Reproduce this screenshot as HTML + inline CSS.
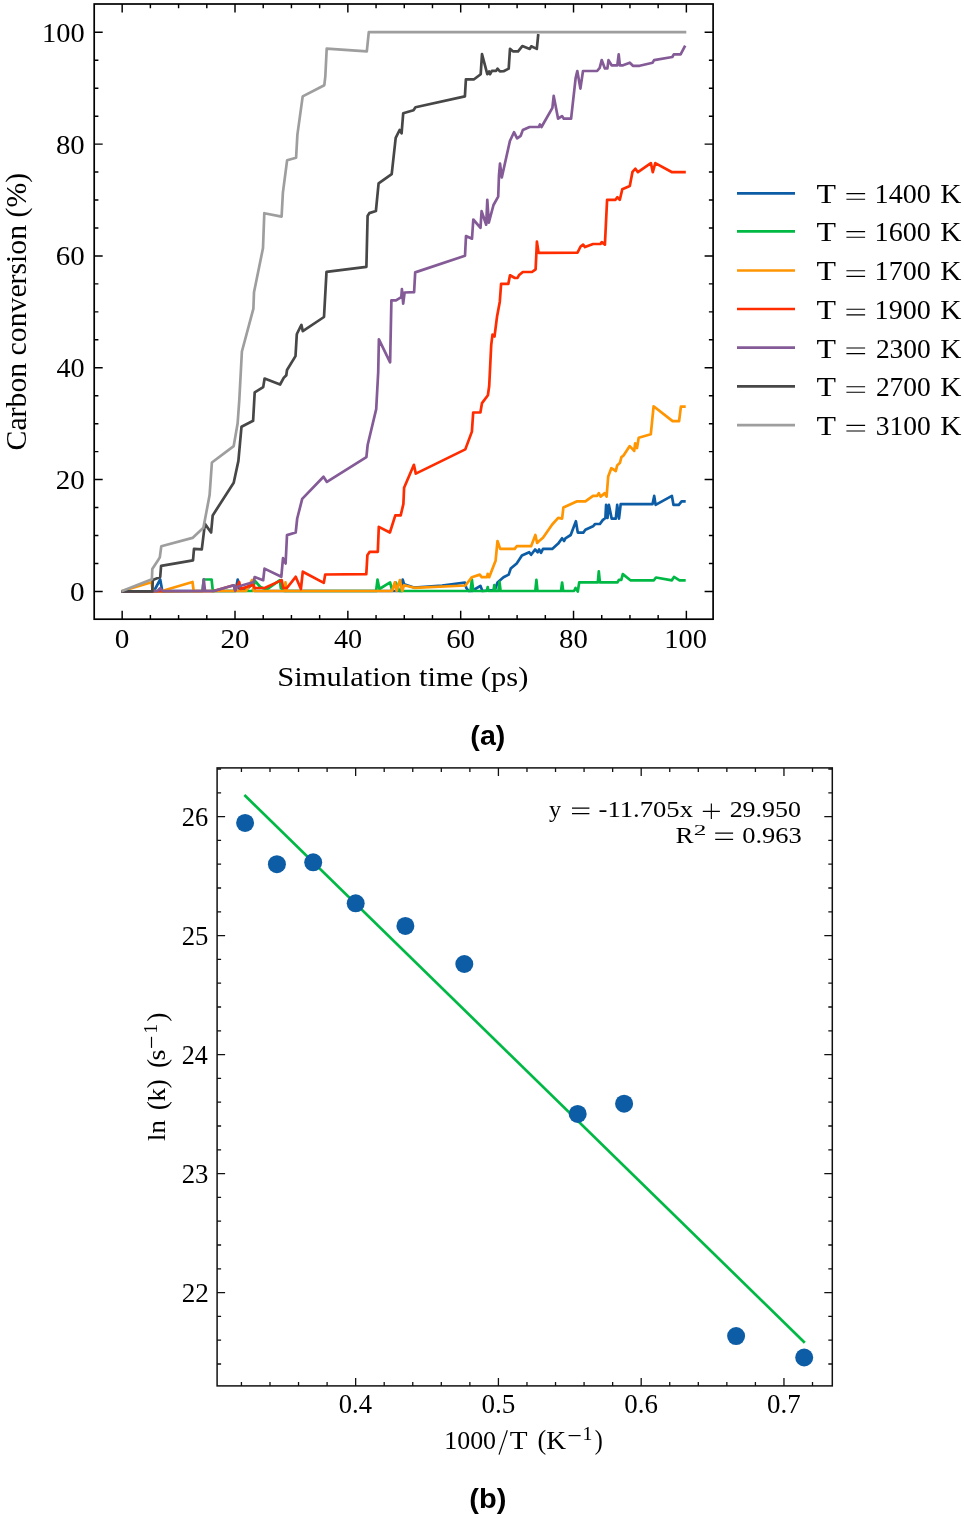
<!DOCTYPE html><html><head><meta charset="utf-8"><style>html,body{margin:0;padding:0;background:#fff}svg{display:block}text{filter:grayscale(1)}</style></head><body><svg width="964" height="1518" viewBox="0 0 964 1518">
<rect width="964" height="1518" fill="#fff"/>
<defs><clipPath id="ca"><rect x="94.2" y="4.0" width="618.90" height="615.20"/></clipPath><clipPath id="cb"><rect x="217.1" y="767.9" width="615.20" height="618.00"/></clipPath></defs>
<g clip-path="url(#ca)" fill="none" stroke-width="2.7" stroke-linejoin="round" stroke-linecap="butt">
<polyline points="121.5,591.3 154.0,591.0 160.2,579.5 162.3,591.0 235.5,591.0 237.7,579.5 239.5,589.0 245.7,589.9 253.0,583.7 254.5,591.0 401.5,591.0 402.7,579.6 404.1,584.3 414.0,587.5 442.0,585.5 464.9,582.6 466.3,588.0 468.6,591.0 471.9,591.0 480.4,585.8 482.4,591.0 494.9,590.0 497.5,582.5 503.5,577.2 508.7,574.6 510.7,568.6 516.7,563.4 521.9,555.5 529.2,552.2 531.1,554.8 535.1,549.5 537.7,552.2 539.1,549.5 541.0,552.8 543.0,548.9 552.2,548.9 558.2,543.6 562.1,538.3 564.1,541.0 565.4,538.3 570.7,535.0 575.9,521.2 577.8,532.6 583.3,532.6 585.4,529.8 593.0,526.3 595.1,524.0 599.9,524.0 602.7,520.1 605.4,518.0 606.1,504.9 607.5,518.0 608.9,504.9 611.7,518.7 615.8,518.7 617.2,504.9 619.0,518.7 620.7,504.2 652.5,504.2 654.2,495.9 655.6,504.9 671.9,495.9 673.5,504.9 678.8,504.9 681.6,501.4 685.7,501.4" stroke="#0C5DA5"/>
<polyline points="121.5,591.3 202.5,591.0 203.7,579.5 211.6,579.5 212.8,591.0 252.7,591.0 254.8,580.6 260.3,587.0 266.5,589.6 279.9,580.1 280.8,588.0 284.5,591.0 376.1,591.0 377.5,579.6 379.4,589.0 390.1,582.4 392.0,590.0 395.7,582.4 399.4,591.0 470.5,591.0 471.9,579.6 473.3,591.0 486.8,591.0 487.7,587.1 488.6,591.0 493.4,591.0 494.3,585.1 495.2,591.0 498.4,591.0 499.5,581.8 500.6,591.0 535.3,591.0 536.4,579.8 537.5,591.0 561.0,591.0 562.1,582.5 563.2,591.0 574.0,591.0 575.5,588.0 577.8,591.5 579.2,582.4 597.8,582.4 598.8,571.3 599.9,582.4 617.5,582.4 618.9,579.8 621.3,579.8 622.8,574.1 630.4,580.3 653.9,580.3 656.0,577.5 671.9,580.3 674.0,576.9 679.5,580.3 685.7,580.3" stroke="#00B945"/>
<polyline points="121.5,591.3 151.5,582.2 152.8,591.0 162.0,591.0 192.5,582.0 193.7,591.0 246.0,591.0 252.2,580.0 253.7,591.0 284.8,591.0 285.5,582.4 286.5,591.0 392.0,591.0 394.8,582.4 396.6,591.0 399.9,580.1 402.2,591.0 404.1,585.2 414.4,587.8 465.4,585.5 471.9,577.2 479.8,574.6 481.7,577.2 487.0,577.2 487.7,573.9 489.2,577.2 494.5,563.4 495.6,560.7 497.5,541.0 500.2,548.9 514.7,548.9 516.7,546.2 531.1,546.2 535.4,535.0 537.1,543.0 539.1,541.0 543.0,537.7 552.2,524.5 558.2,517.9 562.1,518.6 563.4,507.4 576.6,501.4 585.4,501.4 593.0,495.9 597.1,495.9 598.8,493.1 600.6,496.6 604.8,493.1 606.6,496.6 608.2,476.5 611.3,468.2 615.8,471.0 617.2,465.4 620.0,462.7 621.4,457.1 623.4,455.7 629.7,446.1 634.2,450.9 635.2,443.3 637.0,448.1 638.7,437.8 650.8,434.3 653.6,406.3 672.6,421.1 679.1,421.1 680.9,406.6 685.7,406.6" stroke="#FF9500"/>
<polyline points="121.5,591.3 213.7,591.0 233.7,585.3 235.3,590.5 239.2,582.0 240.6,589.0 253.3,584.6 254.6,588.0 264.7,588.0 281.7,580.1 283.1,588.0 286.9,588.0 295.7,576.8 300.9,589.0 302.8,571.7 323.8,582.9 325.2,574.5 366.3,574.1 367.4,555.2 369.7,551.8 377.8,551.8 378.8,526.9 389.9,532.5 395.3,515.4 400.7,515.4 403.4,503.9 404.1,487.8 413.9,464.8 415.8,473.6 465.3,449.4 471.9,431.6 473.2,412.5 480.4,412.5 482.0,403.1 487.9,395.2 489.2,386.0 491.2,345.2 492.5,334.6 494.5,336.6 497.1,316.2 499.8,301.7 501.1,283.9 508.3,283.9 510.0,275.3 514.9,278.0 517.5,278.0 518.9,275.3 522.8,272.0 532.0,272.0 535.6,269.4 536.4,252.9 536.9,241.7 538.6,252.9 577.5,252.7 580.6,246.5 583.1,244.6 585.0,247.1 593.1,244.0 600.5,244.0 601.8,242.1 604.9,244.6 607.1,199.8 615.5,199.8 617.3,197.3 619.8,199.8 622.3,189.2 629.8,186.1 632.5,171.8 635.4,168.7 637.9,172.2 650.9,163.1 652.8,172.2 655.3,163.1 672.1,172.2 685.8,172.2" stroke="#FF2C00"/>
<polyline points="121.5,591.3 157.5,591.0 160.2,588.2 162.5,591.0 202.6,591.0 203.8,579.4 205.0,591.0 213.7,591.0 233.7,585.3 235.3,590.7 236.5,587.0 253.8,582.0 254.6,577.1 263.2,580.2 264.5,568.6 281.3,576.8 283.0,558.2 285.6,563.5 287.0,535.1 295.7,532.5 297.2,518.5 302.2,498.9 323.5,476.7 326.9,481.9 366.4,457.2 367.7,444.7 376.2,409.1 378.2,372.2 378.9,339.3 390.1,362.3 391.4,300.4 396.0,300.4 401.3,297.1 401.9,289.2 403.2,303.7 404.6,292.5 414.1,292.1 415.2,272.4 465.0,255.8 466.0,236.1 472.0,238.7 473.3,219.5 480.5,227.8 481.6,211.2 486.2,224.7 487.3,199.8 488.8,222.6 493.5,205.0 498.2,196.7 499.0,174.9 500.0,163.5 501.8,177.5 509.9,141.0 514.0,132.2 517.1,138.4 520.7,135.8 522.8,130.1 529.6,127.0 538.9,127.0 539.9,124.4 541.5,127.0 552.4,107.8 553.7,95.9 558.1,118.7 562.0,116.1 563.8,118.7 571.1,118.7 575.7,77.7 577.3,71.0 580.4,88.6 583.0,71.0 597.1,71.0 599.7,67.9 601.7,60.1 604.9,68.4 607.4,68.4 608.5,60.1 611.6,65.3 617.3,65.3 618.7,54.4 619.9,65.3 623.0,65.3 629.8,62.7 632.9,65.8 639.6,65.8 652.6,62.7 654.1,60.1 672.3,57.0 673.8,54.4 680.6,54.4 685.2,45.6" stroke="#845B97"/>
<polyline points="121.5,591.3 152.3,591.4 152.8,579.9 160.2,577.0 161.1,565.8 193.0,560.4 194.0,548.8 201.8,549.3 204.9,523.9 211.1,532.5 212.7,515.4 233.7,482.7 238.4,460.9 241.5,426.7 253.1,420.8 254.7,392.4 263.2,387.1 264.6,378.5 280.1,384.5 283.7,377.9 286.3,375.2 287.0,370.0 295.5,356.1 296.8,334.4 297.1,333.5 301.4,324.9 302.8,331.2 324.0,317.0 326.5,271.9 366.4,266.8 367.6,216.0 369.3,213.1 375.9,211.0 378.6,183.4 391.7,174.2 395.7,137.9 399.6,130.0 401.6,133.3 403.2,113.3 413.5,110.2 415.5,107.2 464.9,96.4 465.9,79.3 474.1,79.3 480.7,74.2 482.0,54.1 487.3,74.2 489.1,71.4 490.1,74.2 491.9,70.9 496.1,70.9 497.5,68.6 499.9,71.4 503.6,71.2 508.7,68.6 510.0,48.9 512.9,51.3 518.1,51.3 522.3,46.1 529.8,48.9 531.2,46.3 536.8,48.9 538.3,34.0" stroke="#474747"/>
<polyline points="121.5,591.3 151.9,579.3 152.3,569.1 158.2,560.0 159.8,557.4 161.3,546.2 192.5,537.9 203.4,527.8 209.6,495.1 211.9,462.5 233.7,446.1 237.6,423.6 239.3,400.0 241.9,351.5 253.4,308.7 254.0,292.2 263.0,248.1 264.3,213.2 281.6,216.6 282.9,192.6 287.1,160.3 296.1,157.7 297.4,134.6 302.7,96.4 324.3,85.2 325.3,76.7 326.7,48.7 366.8,51.4 368.8,32.2 686.3,32.2" stroke="#9e9e9e"/>
</g>
<rect x="94.2" y="4.0" width="618.90" height="615.20" fill="none" stroke="#000" stroke-width="1.7"/>
<path d="M122.17 619.2v-8.5M122.17 4.0v8.5M235.01 619.2v-8.5M235.01 4.0v8.5M347.85 619.2v-8.5M347.85 4.0v8.5M460.69 619.2v-8.5M460.69 4.0v8.5M573.53 619.2v-8.5M573.53 4.0v8.5M686.37 619.2v-8.5M686.37 4.0v8.5" stroke="#000" stroke-width="1.45" fill="none"/>
<path d="M150.38 619.2v-4.2M150.38 4.0v4.2M178.59 619.2v-4.2M178.59 4.0v4.2M206.80 619.2v-4.2M206.80 4.0v4.2M263.22 619.2v-4.2M263.22 4.0v4.2M291.43 619.2v-4.2M291.43 4.0v4.2M319.64 619.2v-4.2M319.64 4.0v4.2M376.06 619.2v-4.2M376.06 4.0v4.2M404.27 619.2v-4.2M404.27 4.0v4.2M432.48 619.2v-4.2M432.48 4.0v4.2M488.90 619.2v-4.2M488.90 4.0v4.2M517.11 619.2v-4.2M517.11 4.0v4.2M545.32 619.2v-4.2M545.32 4.0v4.2M601.74 619.2v-4.2M601.74 4.0v4.2M629.95 619.2v-4.2M629.95 4.0v4.2M658.16 619.2v-4.2M658.16 4.0v4.2" stroke="#000" stroke-width="1.45" fill="none"/>
<path d="M94.2 591.40h8.5M713.1 591.40h-8.5M94.2 479.58h8.5M713.1 479.58h-8.5M94.2 367.76h8.5M713.1 367.76h-8.5M94.2 255.94h8.5M713.1 255.94h-8.5M94.2 144.12h8.5M713.1 144.12h-8.5M94.2 32.30h8.5M713.1 32.30h-8.5" stroke="#000" stroke-width="1.45" fill="none"/>
<path d="M94.2 563.44h4.2M713.1 563.44h-4.2M94.2 535.49h4.2M713.1 535.49h-4.2M94.2 507.53h4.2M713.1 507.53h-4.2M94.2 451.62h4.2M713.1 451.62h-4.2M94.2 423.67h4.2M713.1 423.67h-4.2M94.2 395.71h4.2M713.1 395.71h-4.2M94.2 339.80h4.2M713.1 339.80h-4.2M94.2 311.85h4.2M713.1 311.85h-4.2M94.2 283.89h4.2M713.1 283.89h-4.2M94.2 227.98h4.2M713.1 227.98h-4.2M94.2 200.03h4.2M713.1 200.03h-4.2M94.2 172.07h4.2M713.1 172.07h-4.2M94.2 116.16h4.2M713.1 116.16h-4.2M94.2 88.21h4.2M713.1 88.21h-4.2M94.2 60.25h4.2M713.1 60.25h-4.2" stroke="#000" stroke-width="1.45" fill="none"/>
<text x="114.86" y="648.30" style="font-family:'Liberation Serif',serif;font-size:26.5px" textLength="14.63" lengthAdjust="spacingAndGlyphs" xml:space="preserve">0</text>
<text x="220.44" y="648.30" style="font-family:'Liberation Serif',serif;font-size:26.5px" textLength="28.98" lengthAdjust="spacingAndGlyphs" xml:space="preserve">20</text>
<text x="334.00" y="648.30" style="font-family:'Liberation Serif',serif;font-size:26.5px" textLength="28.23" lengthAdjust="spacingAndGlyphs" xml:space="preserve">40</text>
<text x="446.15" y="648.30" style="font-family:'Liberation Serif',serif;font-size:26.5px" textLength="28.95" lengthAdjust="spacingAndGlyphs" xml:space="preserve">60</text>
<text x="559.13" y="648.30" style="font-family:'Liberation Serif',serif;font-size:26.5px" textLength="28.79" lengthAdjust="spacingAndGlyphs" xml:space="preserve">80</text>
<text x="664.32" y="648.30" style="font-family:'Liberation Serif',serif;font-size:26.5px" textLength="42.68" lengthAdjust="spacingAndGlyphs" xml:space="preserve">100</text>
<text x="70.09" y="600.90" style="font-family:'Liberation Serif',serif;font-size:26.5px" textLength="14.63" lengthAdjust="spacingAndGlyphs" xml:space="preserve">0</text>
<text x="55.73" y="489.08" style="font-family:'Liberation Serif',serif;font-size:26.5px" textLength="28.98" lengthAdjust="spacingAndGlyphs" xml:space="preserve">20</text>
<text x="56.45" y="377.26" style="font-family:'Liberation Serif',serif;font-size:26.5px" textLength="28.23" lengthAdjust="spacingAndGlyphs" xml:space="preserve">40</text>
<text x="55.76" y="265.44" style="font-family:'Liberation Serif',serif;font-size:26.5px" textLength="28.95" lengthAdjust="spacingAndGlyphs" xml:space="preserve">60</text>
<text x="55.90" y="153.62" style="font-family:'Liberation Serif',serif;font-size:26.5px" textLength="28.79" lengthAdjust="spacingAndGlyphs" xml:space="preserve">80</text>
<text x="42.00" y="41.80" style="font-family:'Liberation Serif',serif;font-size:26.5px" textLength="42.68" lengthAdjust="spacingAndGlyphs" xml:space="preserve">100</text>
<text x="277.26" y="686.00" style="font-family:'Liberation Serif',serif;font-size:27.5px" textLength="251.08" lengthAdjust="spacingAndGlyphs" xml:space="preserve">Simulation time (ps)</text>
<g transform="translate(26.3 449.2) rotate(-90)">
<text x="-1.22" y="0.00" style="font-family:'Liberation Serif',serif;font-size:28.5px" textLength="277.53" lengthAdjust="spacingAndGlyphs" xml:space="preserve">Carbon conversion (%)</text>
</g>
<line x1="737" x2="795" y1="193.3" y2="193.3" stroke="#0C5DA5" stroke-width="2.7"/>
<text x="816.62" y="203.10" style="font-family:'Liberation Serif',serif;font-size:27.5px" textLength="19.51" lengthAdjust="spacingAndGlyphs" xml:space="preserve">T</text>
<path d="M846.40 193.60H865.10M846.40 199.20H865.10" stroke="#000" stroke-width="1.1"/>
<text x="874.63" y="203.10" style="font-family:'Liberation Serif',serif;font-size:27.5px" textLength="56.24" lengthAdjust="spacingAndGlyphs" xml:space="preserve">1400</text>
<text x="940.16" y="203.10" style="font-family:'Liberation Serif',serif;font-size:27.5px" textLength="21.14" lengthAdjust="spacingAndGlyphs" xml:space="preserve">K</text>
<line x1="737" x2="795" y1="231.3" y2="231.3" stroke="#00B945" stroke-width="2.7"/>
<text x="816.62" y="241.10" style="font-family:'Liberation Serif',serif;font-size:27.5px" textLength="19.51" lengthAdjust="spacingAndGlyphs" xml:space="preserve">T</text>
<path d="M846.40 231.60H865.10M846.40 237.20H865.10" stroke="#000" stroke-width="1.1"/>
<text x="874.63" y="241.10" style="font-family:'Liberation Serif',serif;font-size:27.5px" textLength="56.24" lengthAdjust="spacingAndGlyphs" xml:space="preserve">1600</text>
<text x="940.16" y="241.10" style="font-family:'Liberation Serif',serif;font-size:27.5px" textLength="21.14" lengthAdjust="spacingAndGlyphs" xml:space="preserve">K</text>
<line x1="737" x2="795" y1="270.5" y2="270.5" stroke="#FF9500" stroke-width="2.7"/>
<text x="816.62" y="280.30" style="font-family:'Liberation Serif',serif;font-size:27.5px" textLength="19.51" lengthAdjust="spacingAndGlyphs" xml:space="preserve">T</text>
<path d="M846.40 270.80H865.10M846.40 276.40H865.10" stroke="#000" stroke-width="1.1"/>
<text x="874.63" y="280.30" style="font-family:'Liberation Serif',serif;font-size:27.5px" textLength="56.24" lengthAdjust="spacingAndGlyphs" xml:space="preserve">1700</text>
<text x="940.16" y="280.30" style="font-family:'Liberation Serif',serif;font-size:27.5px" textLength="21.14" lengthAdjust="spacingAndGlyphs" xml:space="preserve">K</text>
<line x1="737" x2="795" y1="309.0" y2="309.0" stroke="#FF2C00" stroke-width="2.7"/>
<text x="816.62" y="318.80" style="font-family:'Liberation Serif',serif;font-size:27.5px" textLength="19.51" lengthAdjust="spacingAndGlyphs" xml:space="preserve">T</text>
<path d="M846.40 309.30H865.10M846.40 314.90H865.10" stroke="#000" stroke-width="1.1"/>
<text x="874.63" y="318.80" style="font-family:'Liberation Serif',serif;font-size:27.5px" textLength="56.24" lengthAdjust="spacingAndGlyphs" xml:space="preserve">1900</text>
<text x="940.16" y="318.80" style="font-family:'Liberation Serif',serif;font-size:27.5px" textLength="21.14" lengthAdjust="spacingAndGlyphs" xml:space="preserve">K</text>
<line x1="737" x2="795" y1="347.7" y2="347.7" stroke="#845B97" stroke-width="2.7"/>
<text x="816.62" y="357.50" style="font-family:'Liberation Serif',serif;font-size:27.5px" textLength="19.51" lengthAdjust="spacingAndGlyphs" xml:space="preserve">T</text>
<path d="M846.40 348.00H865.10M846.40 353.60H865.10" stroke="#000" stroke-width="1.1"/>
<text x="875.89" y="357.50" style="font-family:'Liberation Serif',serif;font-size:27.5px" textLength="54.95" lengthAdjust="spacingAndGlyphs" xml:space="preserve">2300</text>
<text x="940.16" y="357.50" style="font-family:'Liberation Serif',serif;font-size:27.5px" textLength="21.14" lengthAdjust="spacingAndGlyphs" xml:space="preserve">K</text>
<line x1="737" x2="795" y1="386.4" y2="386.4" stroke="#474747" stroke-width="2.7"/>
<text x="816.62" y="396.20" style="font-family:'Liberation Serif',serif;font-size:27.5px" textLength="19.51" lengthAdjust="spacingAndGlyphs" xml:space="preserve">T</text>
<path d="M846.40 386.70H865.10M846.40 392.30H865.10" stroke="#000" stroke-width="1.1"/>
<text x="875.89" y="396.20" style="font-family:'Liberation Serif',serif;font-size:27.5px" textLength="54.95" lengthAdjust="spacingAndGlyphs" xml:space="preserve">2700</text>
<text x="940.16" y="396.20" style="font-family:'Liberation Serif',serif;font-size:27.5px" textLength="21.14" lengthAdjust="spacingAndGlyphs" xml:space="preserve">K</text>
<line x1="737" x2="795" y1="425.1" y2="425.1" stroke="#9e9e9e" stroke-width="2.7"/>
<text x="816.62" y="434.90" style="font-family:'Liberation Serif',serif;font-size:27.5px" textLength="19.51" lengthAdjust="spacingAndGlyphs" xml:space="preserve">T</text>
<path d="M846.40 425.40H865.10M846.40 431.00H865.10" stroke="#000" stroke-width="1.1"/>
<text x="875.78" y="434.90" style="font-family:'Liberation Serif',serif;font-size:27.5px" textLength="55.07" lengthAdjust="spacingAndGlyphs" xml:space="preserve">3100</text>
<text x="940.16" y="434.90" style="font-family:'Liberation Serif',serif;font-size:27.5px" textLength="21.14" lengthAdjust="spacingAndGlyphs" xml:space="preserve">K</text>
<text x="470.38" y="745.30" style="font-family:'Liberation Sans',sans-serif;font-size:28px;font-weight:bold" textLength="34.95" lengthAdjust="spacingAndGlyphs" xml:space="preserve">(a)</text>
<line clip-path="url(#cb)" x1="244.4" y1="795.0" x2="804.8" y2="1342.7" stroke="#00B945" stroke-width="2.7"/>
<circle cx="245.1" cy="822.9" r="9.0" fill="#0C5DA5"/>
<circle cx="276.9" cy="864.2" r="9.0" fill="#0C5DA5"/>
<circle cx="313.2" cy="862.3" r="9.0" fill="#0C5DA5"/>
<circle cx="355.7" cy="903.3" r="9.0" fill="#0C5DA5"/>
<circle cx="405.4" cy="925.9" r="9.0" fill="#0C5DA5"/>
<circle cx="464.3" cy="964.0" r="9.0" fill="#0C5DA5"/>
<circle cx="577.7" cy="1113.9" r="9.0" fill="#0C5DA5"/>
<circle cx="624.1" cy="1103.7" r="9.0" fill="#0C5DA5"/>
<circle cx="736.1" cy="1336.1" r="9.0" fill="#0C5DA5"/>
<circle cx="804.2" cy="1357.5" r="9.0" fill="#0C5DA5"/>
<rect x="217.1" y="767.9" width="615.20" height="618.00" fill="none" stroke="#111" stroke-width="1.5"/>
<path d="M355.65 1385.9v-8.0M355.65 767.9v8.0M498.42 1385.9v-8.0M498.42 767.9v8.0M641.19 1385.9v-8.0M641.19 767.9v8.0M783.96 1385.9v-8.0M783.96 767.9v8.0" stroke="#111" stroke-width="1.3" fill="none"/>
<path d="M241.43 1385.9v-4.0M241.43 767.9v4.0M269.99 1385.9v-4.0M269.99 767.9v4.0M298.54 1385.9v-4.0M298.54 767.9v4.0M327.10 1385.9v-4.0M327.10 767.9v4.0M384.20 1385.9v-4.0M384.20 767.9v4.0M412.76 1385.9v-4.0M412.76 767.9v4.0M441.31 1385.9v-4.0M441.31 767.9v4.0M469.87 1385.9v-4.0M469.87 767.9v4.0M526.97 1385.9v-4.0M526.97 767.9v4.0M555.53 1385.9v-4.0M555.53 767.9v4.0M584.08 1385.9v-4.0M584.08 767.9v4.0M612.64 1385.9v-4.0M612.64 767.9v4.0M669.74 1385.9v-4.0M669.74 767.9v4.0M698.30 1385.9v-4.0M698.30 767.9v4.0M726.85 1385.9v-4.0M726.85 767.9v4.0M755.41 1385.9v-4.0M755.41 767.9v4.0M812.51 1385.9v-4.0M812.51 767.9v4.0" stroke="#111" stroke-width="1.3" fill="none"/>
<path d="M217.1 1292.60h8.0M832.3 1292.60h-8.0M217.1 1173.60h8.0M832.3 1173.60h-8.0M217.1 1054.60h8.0M832.3 1054.60h-8.0M217.1 935.60h8.0M832.3 935.60h-8.0M217.1 816.60h8.0M832.3 816.60h-8.0" stroke="#111" stroke-width="1.3" fill="none"/>
<path d="M217.1 1364.00h4.0M832.3 1364.00h-4.0M217.1 1340.20h4.0M832.3 1340.20h-4.0M217.1 1316.40h4.0M832.3 1316.40h-4.0M217.1 1268.80h4.0M832.3 1268.80h-4.0M217.1 1245.00h4.0M832.3 1245.00h-4.0M217.1 1221.20h4.0M832.3 1221.20h-4.0M217.1 1197.40h4.0M832.3 1197.40h-4.0M217.1 1149.80h4.0M832.3 1149.80h-4.0M217.1 1126.00h4.0M832.3 1126.00h-4.0M217.1 1102.20h4.0M832.3 1102.20h-4.0M217.1 1078.40h4.0M832.3 1078.40h-4.0M217.1 1030.80h4.0M832.3 1030.80h-4.0M217.1 1007.00h4.0M832.3 1007.00h-4.0M217.1 983.20h4.0M832.3 983.20h-4.0M217.1 959.40h4.0M832.3 959.40h-4.0M217.1 911.80h4.0M832.3 911.80h-4.0M217.1 888.00h4.0M832.3 888.00h-4.0M217.1 864.20h4.0M832.3 864.20h-4.0M217.1 840.40h4.0M832.3 840.40h-4.0M217.1 792.80h4.0M832.3 792.80h-4.0M217.1 769.00h4.0M832.3 769.00h-4.0" stroke="#111" stroke-width="1.3" fill="none"/>
<text x="338.74" y="1412.70" style="font-family:'Liberation Serif',serif;font-size:26.5px" textLength="33.23" lengthAdjust="spacingAndGlyphs" xml:space="preserve">0.4</text>
<text x="481.49" y="1412.70" style="font-family:'Liberation Serif',serif;font-size:26.5px" textLength="33.89" lengthAdjust="spacingAndGlyphs" xml:space="preserve">0.5</text>
<text x="624.27" y="1412.70" style="font-family:'Liberation Serif',serif;font-size:26.5px" textLength="33.63" lengthAdjust="spacingAndGlyphs" xml:space="preserve">0.6</text>
<text x="767.04" y="1412.70" style="font-family:'Liberation Serif',serif;font-size:26.5px" textLength="33.60" lengthAdjust="spacingAndGlyphs" xml:space="preserve">0.7</text>
<text x="181.70" y="1301.80" style="font-family:'Liberation Serif',serif;font-size:26.5px" textLength="27.20" lengthAdjust="spacingAndGlyphs" xml:space="preserve">22</text>
<text x="181.73" y="1182.80" style="font-family:'Liberation Serif',serif;font-size:26.5px" textLength="26.72" lengthAdjust="spacingAndGlyphs" xml:space="preserve">23</text>
<text x="181.76" y="1063.80" style="font-family:'Liberation Serif',serif;font-size:26.5px" textLength="26.05" lengthAdjust="spacingAndGlyphs" xml:space="preserve">24</text>
<text x="181.73" y="944.80" style="font-family:'Liberation Serif',serif;font-size:26.5px" textLength="26.72" lengthAdjust="spacingAndGlyphs" xml:space="preserve">25</text>
<text x="181.74" y="825.80" style="font-family:'Liberation Serif',serif;font-size:26.5px" textLength="26.45" lengthAdjust="spacingAndGlyphs" xml:space="preserve">26</text>
<text x="444.22" y="1448.90" style="font-family:'Liberation Serif',serif;font-size:24.5px" textLength="51.87" lengthAdjust="spacingAndGlyphs" xml:space="preserve">1000</text>
<path d="M499.0 1454.6L507.3 1430.2" stroke="#000" stroke-width="1.15"/>
<text x="509.67" y="1448.90" style="font-family:'Liberation Serif',serif;font-size:24.5px" textLength="17.81" lengthAdjust="spacingAndGlyphs" xml:space="preserve">T</text>
<text x="537.55" y="1448.60" style="font-family:'Liberation Serif',serif;font-size:26.5px" textLength="8.69" lengthAdjust="spacingAndGlyphs" xml:space="preserve">(</text>
<text x="546.21" y="1448.90" style="font-family:'Liberation Serif',serif;font-size:24.5px" textLength="19.77" lengthAdjust="spacingAndGlyphs" xml:space="preserve">K</text>
<path d="M568.6 1435.6H580.6" stroke="#000" stroke-width="1.2"/>
<text x="582.45" y="1439.90" style="font-family:'Liberation Serif',serif;font-size:18.5px" textLength="9.94" lengthAdjust="spacingAndGlyphs" xml:space="preserve">1</text>
<text x="594.82" y="1448.60" style="font-family:'Liberation Serif',serif;font-size:26.5px" textLength="8.04" lengthAdjust="spacingAndGlyphs" xml:space="preserve">)</text>
<g transform="translate(165.3 1140.5) rotate(-90)">
<text x="-0.53" y="0.00" style="font-family:'Liberation Serif',serif;font-size:24.5px" textLength="20.74" lengthAdjust="spacingAndGlyphs" xml:space="preserve">ln</text>
<text x="30.19" y="0.50" style="font-family:'Liberation Serif',serif;font-size:26.5px" textLength="9.21" lengthAdjust="spacingAndGlyphs" xml:space="preserve">(</text>
<text x="38.99" y="0.00" style="font-family:'Liberation Serif',serif;font-size:24.5px" textLength="13.51" lengthAdjust="spacingAndGlyphs" xml:space="preserve">k</text>
<text x="51.91" y="0.50" style="font-family:'Liberation Serif',serif;font-size:26.5px" textLength="9.21" lengthAdjust="spacingAndGlyphs" xml:space="preserve">)</text>
<text x="72.49" y="0.50" style="font-family:'Liberation Serif',serif;font-size:26.5px" textLength="9.21" lengthAdjust="spacingAndGlyphs" xml:space="preserve">(</text>
<text x="79.94" y="0.00" style="font-family:'Liberation Serif',serif;font-size:24.5px" textLength="10.98" lengthAdjust="spacingAndGlyphs" xml:space="preserve">s</text>
<path d="M92.6 -13.8H103.7" stroke="#000" stroke-width="1.2"/>
<text x="106.85" y="-8.70" style="font-family:'Liberation Serif',serif;font-size:18.5px" textLength="9.94" lengthAdjust="spacingAndGlyphs" xml:space="preserve">1</text>
<text x="118.71" y="0.50" style="font-family:'Liberation Serif',serif;font-size:26.5px" textLength="9.21" lengthAdjust="spacingAndGlyphs" xml:space="preserve">)</text>
</g>
<text x="549.10" y="816.60" style="font-family:'Liberation Serif',serif;font-size:23px" textLength="12.09" lengthAdjust="spacingAndGlyphs" xml:space="preserve">y</text>
<path d="M572.00 808.10H589.40M572.00 813.60H589.40" stroke="#000" stroke-width="1.2"/>
<text x="598.52" y="816.60" style="font-family:'Liberation Serif',serif;font-size:23px" textLength="94.50" lengthAdjust="spacingAndGlyphs" xml:space="preserve">-11.705x</text>
<path d="M702.8 811.3H719.9M711.35 803.6V819" stroke="#000" stroke-width="1.15"/>
<text x="729.66" y="816.60" style="font-family:'Liberation Serif',serif;font-size:23px" textLength="71.33" lengthAdjust="spacingAndGlyphs" xml:space="preserve">29.950</text>
<text x="675.52" y="842.50" style="font-family:'Liberation Serif',serif;font-size:23px" textLength="18.02" lengthAdjust="spacingAndGlyphs" xml:space="preserve">R</text>
<text x="693.89" y="834.70" style="font-family:'Liberation Serif',serif;font-size:15px" textLength="12.60" lengthAdjust="spacingAndGlyphs" xml:space="preserve">2</text>
<path d="M715.20 833.10H733.10M715.20 839.30H733.10" stroke="#000" stroke-width="1.2"/>
<text x="742.19" y="842.50" style="font-family:'Liberation Serif',serif;font-size:23px" textLength="59.65" lengthAdjust="spacingAndGlyphs" xml:space="preserve">0.963</text>
<text x="469.35" y="1508.00" style="font-family:'Liberation Sans',sans-serif;font-size:28px;font-weight:bold" textLength="37.09" lengthAdjust="spacingAndGlyphs" xml:space="preserve">(b)</text>
</svg></body></html>
